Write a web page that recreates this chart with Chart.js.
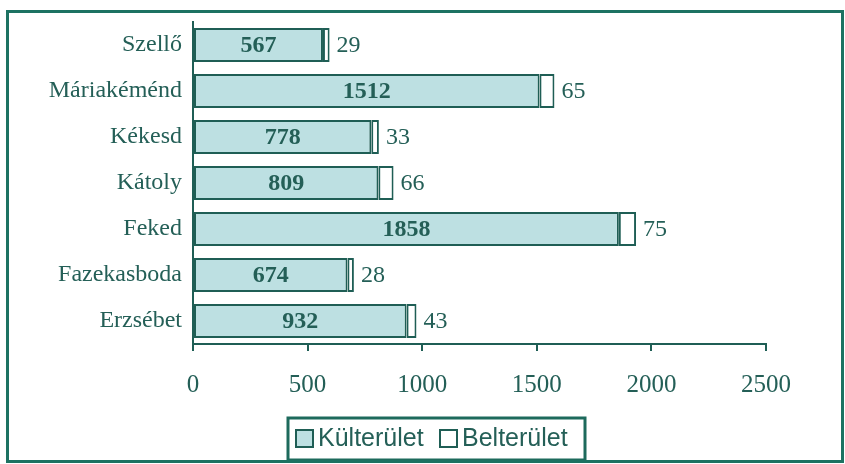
<!DOCTYPE html>
<html>
<head>
<meta charset="utf-8">
<script src="https://cdn.jsdelivr.net/npm/chart.js@4"></script>
<style>
html,body{margin:0;padding:0;background:#fff;}
#wrap{position:relative;width:845px;height:464px;overflow:hidden;}
#frame{position:absolute;left:6px;top:10px;width:832px;height:447px;border:3px solid #1d7262;pointer-events:none;}
canvas{position:absolute;left:0;top:0;}
</style>
</head>
<body>
<div id="wrap">
<canvas id="c" width="845" height="464"></canvas>
<div id="frame"></div>
</div>
<script>
const categories = ['Szellő','Máriakéménd','Kékesd','Kátoly','Feked','Fazekasboda','Erzsébet'];
const kulterulet = [567,1512,778,809,1858,674,932];
const belterulet = [29,65,33,66,75,28,43];
const seriesNames = ['Külterület','Belterület'];
const xTicks = [0,500,1000,1500,2000,2500];

const ink = '#1f5e55';
const textCol = '#245f57';
const fillK = '#bde0e2';

const labelPlugin = {
  id:'labels',
  afterDatasetsDraw(chart){
    const ctx = chart.ctx;
    ctx.save();
    ctx.fillStyle = textCol;
    ctx.textBaseline = 'middle';
    const m0 = chart.getDatasetMeta(0);
    m0.data.forEach((el,i)=>{
      ctx.font = 'bold 24px "Liberation Serif"';
      ctx.textAlign = 'center';
      ctx.fillText(String(kulterulet[i]), (el.x+el.base)/2, el.y+1);
    });
    const m1 = chart.getDatasetMeta(1);
    m1.data.forEach((el,i)=>{
      ctx.font = '24px "Liberation Serif"';
      ctx.textAlign = 'left';
      ctx.fillText(String(belterulet[i]), el.x+7, el.y+1);
    });
    ctx.restore();
  },
  afterDraw(chart){
    const ctx = chart.ctx;
    ctx.save();
    const bx=288, by=418, bw=297, bh=42;
    ctx.fillStyle='#fff';
    ctx.fillRect(bx,by,bw,bh);
    ctx.strokeStyle='#1d6a5c';
    ctx.lineWidth=3;
    ctx.strokeRect(bx,by,bw,bh);
    ctx.font='25px "Liberation Sans"';
    ctx.textBaseline='middle';
    ctx.textAlign='left';
    const fills=[fillK,'#fff'];
    const cy = by+20;
    const startX = [bx+8, bx+152];
    seriesNames.forEach((n,i)=>{
      const x = startX[i];
      ctx.fillStyle=fills[i];
      ctx.fillRect(x,cy-8,17,17);
      ctx.strokeStyle=ink; ctx.lineWidth=2;
      ctx.strokeRect(x,cy-8,17,17);
      ctx.fillStyle=textCol;
      ctx.fillText(n,x+22,cy+1);
    });
    ctx.restore();
  }
};

new Chart(document.getElementById('c'),{
  type:'bar',
  data:{
    labels:categories,
    datasets:[
      {label:seriesNames[0],data:kulterulet,backgroundColor:fillK,borderColor:ink,borderWidth:2,borderSkipped:false,categoryPercentage:1,barPercentage:0.74},
      {label:seriesNames[1],data:belterulet,backgroundColor:'#fff',borderColor:ink,borderWidth:2,borderSkipped:false,categoryPercentage:1,barPercentage:0.74}
    ]
  },
  options:{
    indexAxis:'y',
    responsive:false,
    animation:false,
    layout:{padding:{left:0,right:79,top:22,bottom:0}},
    plugins:{legend:{display:false},tooltip:{enabled:false}},
    scales:{
      x:{
        stacked:true,min:0,max:2500,
        afterBuildTicks(s){ s.ticks = xTicks.map(v=>({value:v})); },
        afterFit(s){ s.height = 120; },
        grid:{drawOnChartArea:false,drawTicks:true,tickLength:7,color:ink,lineWidth:2},
        border:{display:true,color:ink,width:2},
        ticks:{color:textCol,font:{family:'"Liberation Serif"',size:25},padding:19,maxRotation:0,callback:(v)=>String(v)}
      },
      y:{
        stacked:true,
        afterFit(s){ s.width = 193; },
        grid:{display:false},
        border:{display:true,color:ink,width:2},
        ticks:{color:textCol,font:{family:'"Liberation Serif"',size:24},padding:3}
      }
    }
  },
  plugins:[labelPlugin]
});
</script>
</body>
</html>
